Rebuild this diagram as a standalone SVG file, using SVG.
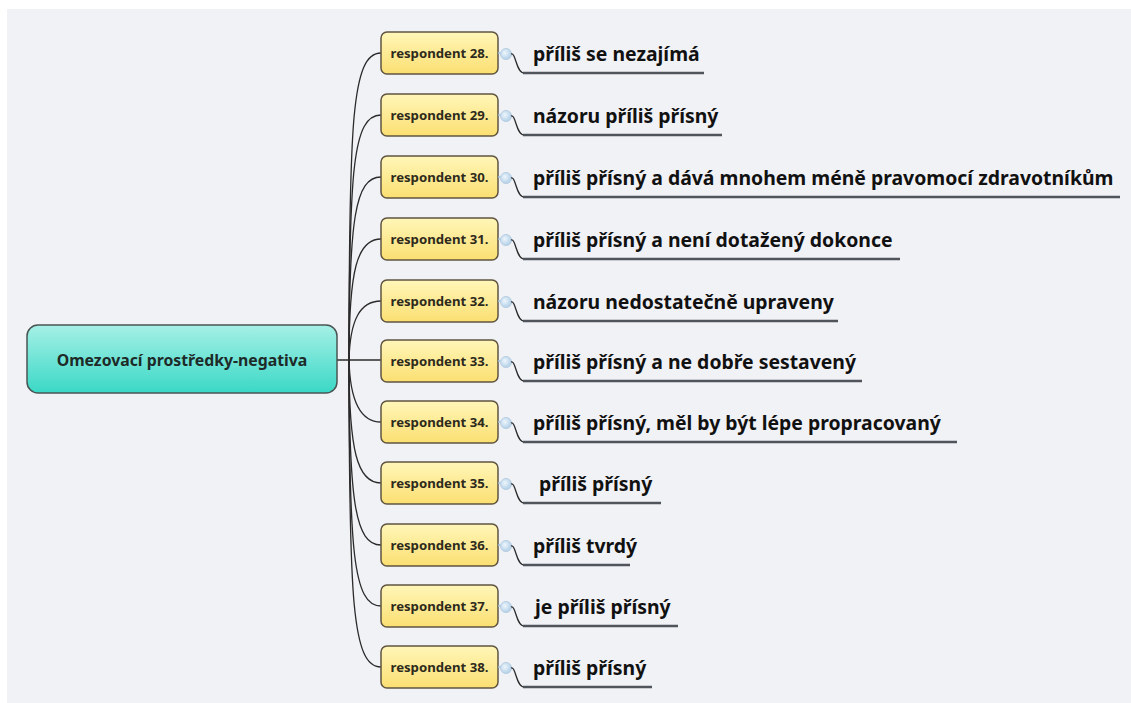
<svg xmlns="http://www.w3.org/2000/svg" width="1131" height="703" viewBox="0 0 1131 703">
  <defs>
    <linearGradient id="rootFill" x1="0" y1="0" x2="0" y2="1">
      <stop offset="0" stop-color="#a6f0e6"/>
      <stop offset="1" stop-color="#3ad8c6"/>
    </linearGradient>
    <linearGradient id="leafFill" x1="0" y1="0" x2="0" y2="1">
      <stop offset="0" stop-color="#fff6b8"/>
      <stop offset="1" stop-color="#fbdf72"/>
    </linearGradient>
    <radialGradient id="knob" cx="0.4" cy="0.4" r="0.7">
      <stop offset="0" stop-color="#eef6fc"/>
      <stop offset="1" stop-color="#a9c9e4"/>
    </radialGradient>
  </defs>
  <style>
    .root { fill: url(#rootFill); stroke: #4a5553; stroke-width: 1.5; }
    .leaf { fill: url(#leafFill); stroke: #5f5440; stroke-width: 1.5; }
    .rootText { font-family: "Noto Sans", "DejaVu Sans", sans-serif; font-weight: bold; font-size: 15.8px; fill: #1e2a28; }
    .leafText { font-family: "Noto Sans", "DejaVu Sans", sans-serif; font-weight: bold; font-size: 13.2px; fill: #2d2a1c; }
    .label { font-family: "Noto Sans", "DejaVu Sans", sans-serif; font-weight: bold; font-size: 19.4px; fill: #111; }
    .wire { fill: none; stroke: #2b2b2b; stroke-width: 1.3; }
    .under { fill: none; stroke: #50555b; stroke-width: 2.4; }
    .knob { fill: url(#knob); stroke: #b7cfe3; stroke-width: 1; }
    .stub { stroke: #9fbfdc; stroke-width: 1.5; }
  </style>

  <rect x="0" y="0" width="1131" height="703" fill="#ffffff"/>
  <rect x="7" y="9" width="1124" height="694" fill="#f1f2f6"/>

  <!-- branches from the central topic to each respondent -->
  <g id="connectors">
    <path class="wire" d="M337,360 L381,360"/>
    <path class="wire" d="M349,360 C349,120 352,53 381,53"/>
    <path class="wire" d="M349,360 C349,170 353,115 381,115"/>
    <path class="wire" d="M349,360 C349,220 355,177 381,177"/>
    <path class="wire" d="M349,360 C349,270 357,239 381,239"/>
    <path class="wire" d="M349,360 C350,320 360,301 381,301"/>
    <path class="wire" d="M349,360 C350,400 360,422 381,422"/>
    <path class="wire" d="M349,360 C349,450 357,483 381,483"/>
    <path class="wire" d="M349,360 C349,500 355,545 381,545"/>
    <path class="wire" d="M349,360 C349,550 353,606 381,606"/>
    <path class="wire" d="M349,360 C349,600 352,667 381,667"/>
  </g>

  <g id="root">
    <rect class="root" x="27" y="325" width="310" height="68" rx="11"/>
    <text class="rootText" x="182" y="366" text-anchor="middle">Omezovací prostředky-negativa</text>
  </g>

  <!-- one group per respondent: box, collapse knob, curved lead-in and underlined answer -->
  <g id="r28" transform="translate(0,53)">
    <rect class="leaf" x="381" y="-21" width="117" height="42" rx="6"/>
    <text class="leafText" x="439.5" y="5" text-anchor="middle">respondent 28.</text>
    <line class="stub" x1="498" y1="0" x2="501" y2="0"/>
    <circle class="knob" cx="506" cy="1" r="5.5"/>
    <path class="wire" d="M511,1 C516,-1 516,20 524,20"/>
    <line class="under" x1="523" y1="20" x2="704" y2="20"/>
    <text class="label" x="533" y="8">příliš se nezajímá</text>
  </g>
  <g id="r29" transform="translate(0,115)">
    <rect class="leaf" x="381" y="-21" width="117" height="42" rx="6"/>
    <text class="leafText" x="439.5" y="5" text-anchor="middle">respondent 29.</text>
    <line class="stub" x1="498" y1="0" x2="501" y2="0"/>
    <circle class="knob" cx="506" cy="1" r="5.5"/>
    <path class="wire" d="M511,1 C516,-1 516,20 524,20"/>
    <line class="under" x1="523" y1="20" x2="722" y2="20"/>
    <text class="label" x="533" y="8">názoru příliš přísný</text>
  </g>
  <g id="r30" transform="translate(0,177)">
    <rect class="leaf" x="381" y="-21" width="117" height="42" rx="6"/>
    <text class="leafText" x="439.5" y="5" text-anchor="middle">respondent 30.</text>
    <line class="stub" x1="498" y1="0" x2="501" y2="0"/>
    <circle class="knob" cx="506" cy="1" r="5.5"/>
    <path class="wire" d="M511,1 C516,-1 516,20 524,20"/>
    <line class="under" x1="523" y1="20" x2="1120" y2="20"/>
    <text class="label" x="533" y="8">příliš přísný a dává mnohem méně pravomocí zdravotníkům</text>
  </g>
  <g id="r31" transform="translate(0,239)">
    <rect class="leaf" x="381" y="-21" width="117" height="42" rx="6"/>
    <text class="leafText" x="439.5" y="5" text-anchor="middle">respondent 31.</text>
    <line class="stub" x1="498" y1="0" x2="501" y2="0"/>
    <circle class="knob" cx="506" cy="1" r="5.5"/>
    <path class="wire" d="M511,1 C516,-1 516,20 524,20"/>
    <line class="under" x1="523" y1="20" x2="900" y2="20"/>
    <text class="label" x="533" y="8">příliš přísný a není dotažený dokonce</text>
  </g>
  <g id="r32" transform="translate(0,301)">
    <rect class="leaf" x="381" y="-21" width="117" height="42" rx="6"/>
    <text class="leafText" x="439.5" y="5" text-anchor="middle">respondent 32.</text>
    <line class="stub" x1="498" y1="0" x2="501" y2="0"/>
    <circle class="knob" cx="506" cy="1" r="5.5"/>
    <path class="wire" d="M511,1 C516,-1 516,20 524,20"/>
    <line class="under" x1="523" y1="20" x2="838" y2="20"/>
    <text class="label" x="533" y="8">názoru nedostatečně upraveny</text>
  </g>
  <g id="r33" transform="translate(0,361)">
    <rect class="leaf" x="381" y="-21" width="117" height="42" rx="6"/>
    <text class="leafText" x="439.5" y="5" text-anchor="middle">respondent 33.</text>
    <line class="stub" x1="498" y1="0" x2="501" y2="0"/>
    <circle class="knob" cx="506" cy="1" r="5.5"/>
    <path class="wire" d="M511,1 C516,-1 516,20 524,20"/>
    <line class="under" x1="523" y1="20" x2="862" y2="20"/>
    <text class="label" x="533" y="8">příliš přísný a ne dobře sestavený</text>
  </g>
  <g id="r34" transform="translate(0,422)">
    <rect class="leaf" x="381" y="-21" width="117" height="42" rx="6"/>
    <text class="leafText" x="439.5" y="5" text-anchor="middle">respondent 34.</text>
    <line class="stub" x1="498" y1="0" x2="501" y2="0"/>
    <circle class="knob" cx="506" cy="1" r="5.5"/>
    <path class="wire" d="M511,1 C516,-1 516,20 524,20"/>
    <line class="under" x1="523" y1="20" x2="957" y2="20"/>
    <text class="label" x="533" y="8">příliš přísný, měl by být lépe propracovaný</text>
  </g>
  <g id="r35" transform="translate(0,483)">
    <rect class="leaf" x="381" y="-21" width="117" height="42" rx="6"/>
    <text class="leafText" x="439.5" y="5" text-anchor="middle">respondent 35.</text>
    <line class="stub" x1="498" y1="0" x2="501" y2="0"/>
    <circle class="knob" cx="506" cy="1" r="5.5"/>
    <path class="wire" d="M511,1 C516,-1 516,20 524,20"/>
    <line class="under" x1="523" y1="20" x2="661" y2="20"/>
    <text class="label" x="539" y="8">příliš přísný</text>
  </g>
  <g id="r36" transform="translate(0,545)">
    <rect class="leaf" x="381" y="-21" width="117" height="42" rx="6"/>
    <text class="leafText" x="439.5" y="5" text-anchor="middle">respondent 36.</text>
    <line class="stub" x1="498" y1="0" x2="501" y2="0"/>
    <circle class="knob" cx="506" cy="1" r="5.5"/>
    <path class="wire" d="M511,1 C516,-1 516,20 524,20"/>
    <line class="under" x1="523" y1="20" x2="630" y2="20"/>
    <text class="label" x="533" y="8">příliš tvrdý</text>
  </g>
  <g id="r37" transform="translate(0,606)">
    <rect class="leaf" x="381" y="-21" width="117" height="42" rx="6"/>
    <text class="leafText" x="439.5" y="5" text-anchor="middle">respondent 37.</text>
    <line class="stub" x1="498" y1="0" x2="501" y2="0"/>
    <circle class="knob" cx="506" cy="1" r="5.5"/>
    <path class="wire" d="M511,1 C516,-1 516,20 524,20"/>
    <line class="under" x1="523" y1="20" x2="678" y2="20"/>
    <text class="label" x="535" y="8">je příliš přísný</text>
  </g>
  <g id="r38" transform="translate(0,667)">
    <rect class="leaf" x="381" y="-21" width="117" height="42" rx="6"/>
    <text class="leafText" x="439.5" y="5" text-anchor="middle">respondent 38.</text>
    <line class="stub" x1="498" y1="0" x2="501" y2="0"/>
    <circle class="knob" cx="506" cy="1" r="5.5"/>
    <path class="wire" d="M511,1 C516,-1 516,20 524,20"/>
    <line class="under" x1="523" y1="20" x2="652" y2="20"/>
    <text class="label" x="533" y="8">příliš přísný</text>
  </g>
</svg>
